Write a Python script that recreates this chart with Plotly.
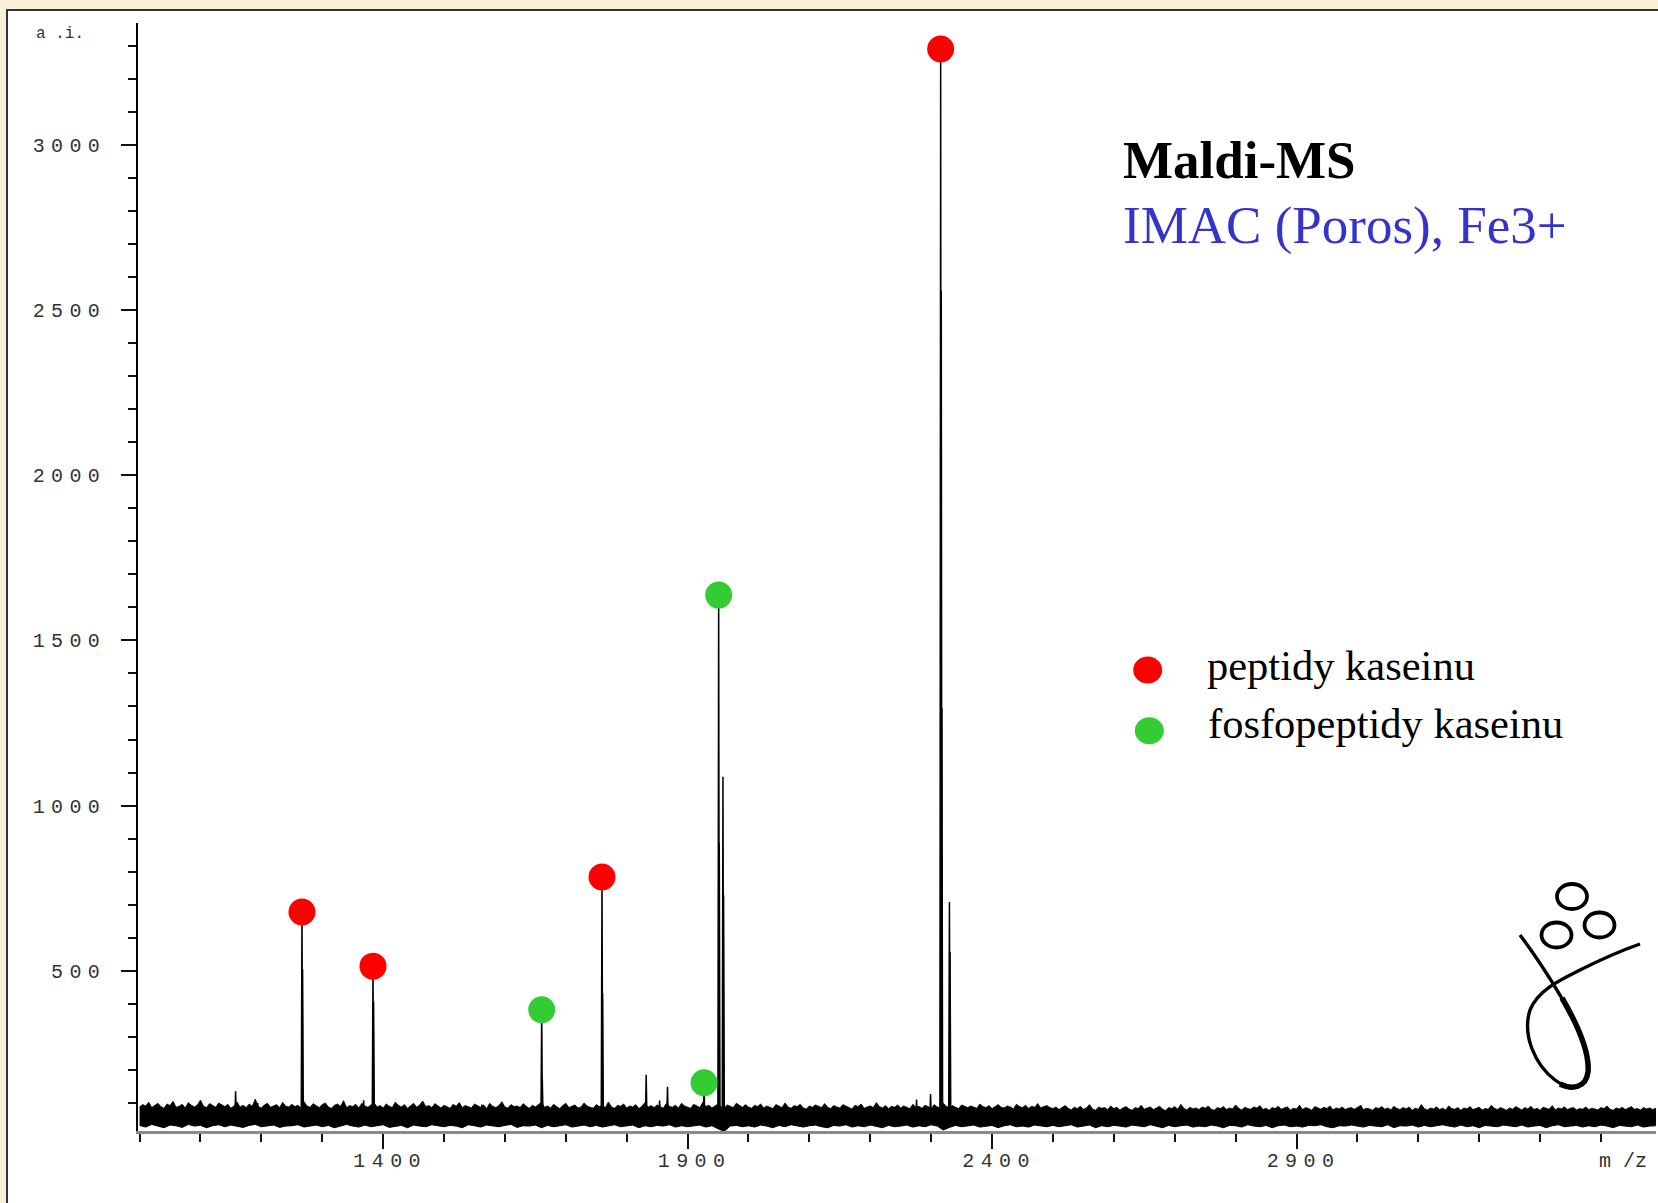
import plotly.graph_objects as go

# ---------------- spectrum data ----------------
# upper edge of the baseline noise, every 5 m/z from 1000 to 3495
noise_hi_mz = list(range(1000, 3500, 5))
noise_hi = [
    88, 95, 91, 102, 86, 93, 99, 89, 84, 97, 92, 105, 87, 90, 96, 85, 101, 93, 88, 94, 109, 90, 86, 98, 92,
    87, 100, 94, 89, 96, 84, 91, 103, 88, 93, 86, 97, 90, 112, 89, 85, 94, 99, 87, 92, 95, 86, 102, 90, 88,
    96, 89, 93, 85, 104, 91, 87, 98, 92, 86, 95, 100, 88, 84, 93, 97, 90, 107, 86, 92, 89, 96, 85, 99, 91,
    87, 94, 101, 88, 92, 85, 97, 90, 86, 103, 93, 88, 95, 84, 91, 99, 87, 94, 106, 89, 92, 86, 98, 90, 85,
    93, 88, 84, 96, 90, 101, 86, 92, 89, 85, 97, 91, 87, 94, 83, 99, 90, 86, 92, 104, 88, 85, 95, 89, 91,
    86, 98, 90, 84, 93, 88, 95, 102, 87, 91, 85, 96, 89, 83, 92, 99, 86, 90, 94, 85, 88, 100, 91, 87, 84,
    95, 89, 92, 86, 103, 88, 84, 93, 90, 97, 85, 91, 88, 95, 83, 90, 101, 87, 92, 86, 94, 89, 84, 98, 90,
    87, 93, 85, 99, 91, 88, 84, 96, 90, 86, 102, 89, 93, 85, 91, 97, 88, 83, 94, 90, 86, 99, 92, 87, 95,
    88, 84, 93, 89, 97, 85, 91, 87, 83, 95, 90, 86, 100, 88, 84, 92, 89, 96, 85, 82, 91, 87, 94, 90, 86,
    98, 87, 83, 92, 88, 85, 95, 90, 86, 82, 93, 89, 97, 84, 88, 91, 86, 101, 89, 85, 92, 83, 90, 87, 94,
    85, 91, 88, 83, 96, 87, 90, 84, 93, 89, 82, 95, 88, 86, 99, 90, 85, 92, 87, 83, 94, 89, 86, 91, 88,
    84, 97, 89, 86, 92, 83, 90, 95, 87, 85, 91, 88, 82, 96, 89, 86, 93, 84, 90, 87, 98, 85, 89, 92, 86,
    83, 88, 80, 86, 92, 84, 79, 87, 83, 90, 81, 85, 95, 82, 78, 88, 84, 86, 80, 91, 83, 87, 79, 85, 89,
    82, 78, 86, 83, 93, 81, 85, 88, 80, 84, 90, 82, 77, 86, 83, 89, 81, 96, 84, 79, 87, 82, 85, 80, 88,
    84, 91, 81, 78, 86, 83, 89, 80, 85, 82, 94, 84, 79, 87, 83, 81, 88, 85, 92, 80, 84, 78, 86, 83, 90,
    81, 85, 88, 79, 84, 82, 93, 80, 86, 83, 78, 89, 84, 81, 87, 83, 91, 79, 85, 82, 88, 80, 84, 86, 81,
    87, 92, 80, 84, 82, 78, 86, 83, 89, 81, 85, 79, 90, 83, 80, 86, 82, 88, 78, 84, 81, 95, 83, 79, 85,
    82, 88, 80, 84, 79, 91, 83, 81, 86, 78, 85, 82, 89, 80, 84, 87, 79, 83, 81, 93, 84, 80, 86, 82, 78,
    85, 81, 89, 83, 79, 86, 82, 90, 80, 84, 78, 87, 83, 81, 92, 79, 85, 82, 88, 80, 84, 86, 79, 83, 81,
    88, 80, 84, 82, 79, 86, 83, 91, 81, 78, 85, 82, 87, 80, 84, 89, 81, 83, 79, 86, 82, 85, 80, 84, 82,
]
# lower edge of the baseline noise, every 10 m/z from 1000 to 3490
noise_lo_mz = list(range(1000, 3500, 10))
noise_lo = [
    32, 27, 35, 30, 25, 33, 31, 26, 35, 30, 32, 25, 31, 34, 28, 33, 30, 26, 32, 35, 28, 31, 33, 26, 30,
    31, 34, 27, 30, 33, 28, 32, 25, 31, 35, 30, 27, 33, 28, 31, 34, 26, 30, 32, 25, 33, 30, 28, 34, 31,
    28, 32, 30, 25, 34, 31, 27, 33, 30, 28, 32, 35, 26, 31, 30, 33, 25, 32, 28, 31, 34, 27, 30, 33, 28,
    32, 27, 31, 34, 28, 30, 33, 25, 31, 28, 32, 30, 34, 27, 31, 28, 30, 33, 27, 31, 22, 14, 30, 32, 28,
    31, 27, 33, 30, 25, 32, 28, 34, 30, 27, 31, 33, 28, 25, 32, 30, 34, 27, 31, 28, 33, 30, 25, 32, 28,
    30, 33, 27, 31, 28, 34, 30, 18, 26, 32, 28, 31, 33, 27, 30, 32, 25, 31, 34, 28, 30, 27, 33, 31, 28,
    32, 28, 31, 34, 27, 30, 33, 25, 31, 28, 32, 30, 27, 33, 31, 28, 34, 30, 25, 32, 28, 31, 33, 27, 30,
    28, 33, 30, 25, 32, 31, 27, 34, 30, 28, 32, 25, 31, 33, 28, 30, 27, 32, 31, 34, 28, 25, 31, 30, 33,
    30, 27, 32, 31, 28, 34, 25, 31, 30, 33, 27, 32, 28, 31, 34, 30, 27, 33, 28, 31, 25, 32, 30, 28, 33,
    31, 28, 33, 27, 30, 32, 25, 31, 34, 28, 30, 32, 27, 31, 28, 33, 30, 25, 32, 31, 28, 33, 27, 30, 31,
]
assert len(noise_hi) == len(noise_hi_mz) and len(noise_lo) == len(noise_lo_mz)
baseline_level = 55

# peaks (m/z, intensity in a.i.)
peak_mz = [1157.7, 1194.0, 1266.7, 1267.7, 1368.0, 1383.3, 1384.3, 1562.0, 1660.4, 1661.4,
           1759.4, 1760.4, 1832.0, 1854.0, 1867.0, 1927.0, 1951.0, 1952.0, 1958.1, 1959.1,
           2276.0, 2299.0, 2315.6, 2316.6, 2317.6, 2330.0, 2331.0, 3006.0]
peak_int = [135, 100, 678, 505, 108, 514, 406, 95, 382, 170,
            784, 432, 185, 107, 149, 161, 1637, 887, 1087, 729,
            110, 127, 3290, 2558, 1295, 708, 558, 92]
peak_halfwidth = 1.2

# annotated peaks
casein_mz = [1266.7, 1383.3, 1759.4, 2315.6]
casein_int = [678, 514, 784, 3290]
phospho_mz = [1660.4, 1927.0, 1951.0]
phospho_int = [382, 161, 1637]

# axis ticks
x_major = [1400, 1900, 2400, 2900, 3400]
x_labels = ["1400", "1900", "2400", "2900", ""]
x_minor = list(range(1000, 3500, 100))
y_major = [500, 1000, 1500, 2000, 2500, 3000]
y_labels = ["500", "1000", "1500", "2000", "2500", "3000"]
y_minor = list(range(100, 3400, 100))

# ---------------- page geometry ----------------
FIG_W, FIG_H = 1658, 1203
M_L, M_R, M_T, M_B = 138, 2, 23, 72
PLOT_W = FIG_W - M_L - M_R
PLOT_H = FIG_H - M_T - M_B
X_RANGE = [997.4, 3490.4]
Y_RANGE = [15.1, 3368.6]

RED = "#ff0000"
GREEN = "#33cc33"
MONO = "Liberation Mono"
SERIF = "Liberation Serif, Times New Roman, serif"


def px(x):
    return (x - M_L) / PLOT_W


def py(y):
    return (FIG_H - M_B - y) / PLOT_H


def spaced(txt, sp=6.4):
    if not txt:
        return ""
    return f'<span style="letter-spacing:{sp}px">{txt}</span>'


def svg_path(cmds):
    parts = []
    for op, pts in cmds:
        coords = " ".join(f"{px(x):.5f},{py(y):.5f}" for x, y in pts)
        parts.append(f"{op} {coords}")
    return " ".join(parts)


# ---------------- traces ----------------
fig = go.Figure()

fig.add_trace(go.Scatter(x=noise_lo_mz, y=noise_lo, mode="lines",
                         line=dict(color="black", width=1), hoverinfo="skip",
                         showlegend=False))
fig.add_trace(go.Scatter(x=noise_hi_mz, y=noise_hi, mode="lines", fill="tonexty",
                         fillcolor="black", line=dict(color="black", width=0.8),
                         hoverinfo="skip", showlegend=False))

sx, sy = [], []
for m, h in zip(peak_mz, peak_int):
    sx += [m - peak_halfwidth, m, m + peak_halfwidth, None]
    sy += [baseline_level, h, baseline_level, None]
fig.add_trace(go.Scatter(x=sx, y=sy, mode="lines",
                         line=dict(color="black", width=1.5),
                         hoverinfo="skip", showlegend=False))

fig.add_trace(go.Scatter(x=casein_mz, y=casein_int, mode="markers",
                         marker=dict(size=27, color=RED, line=dict(width=0)),
                         name="peptidy kaseinu", showlegend=False))
fig.add_trace(go.Scatter(x=phospho_mz, y=phospho_int, mode="markers",
                         marker=dict(size=27, color=GREEN, line=dict(width=0)),
                         name="fosfopeptidy kaseinu", showlegend=False))

# ---------------- decorations ----------------
shapes = [
    # white panel with dark frame
    dict(type="rect", xref="paper", yref="paper", layer="below",
         x0=px(7), x1=px(1720), y0=py(1260), y1=py(10),
         fillcolor="white", line=dict(color="#333333", width=2)),
    # legend dots
    dict(type="circle", xref="paper", yref="paper",
         x0=px(1133.2), x1=px(1162.2), y0=py(683.5), y1=py(656.5),
         fillcolor=RED, line=dict(width=0)),
    dict(type="circle", xref="paper", yref="paper",
         x0=px(1134.8), x1=px(1163.8), y0=py(744.2), y1=py(717.2),
         fillcolor=GREEN, line=dict(width=0)),
]

# logo: three rings and a looped stroke
for cx, cy in [(1572, 896.5), (1556.5, 935), (1599.5, 925)]:
    shapes.append(dict(type="circle", xref="paper", yref="paper",
                       x0=px(cx - 15), x1=px(cx + 15), y0=py(cy + 12.5), y1=py(cy - 12.5),
                       line=dict(color="black", width=3.8)))
loop = [
    ("M", [(1520, 935)]),
    ("C", [(1535, 955), (1548, 975), (1560, 995)]),
    ("C", [(1575, 1020), (1590, 1050), (1588, 1072)]),
    ("C", [(1586, 1090), (1568, 1090), (1555, 1080)]),
    ("C", [(1535, 1065), (1522, 1035), (1530, 1010)]),
    ("C", [(1538, 990), (1560, 980), (1580, 970)]),
    ("C", [(1600, 960), (1620, 951), (1640, 944)]),
]
shapes.append(dict(type="path", xref="paper", yref="paper", path=svg_path(loop),
                   line=dict(color="black", width=3.4)))
heavy = [
    ("M", [(1562, 998)]),
    ("C", [(1576, 1022), (1590, 1050), (1588, 1072)]),
    ("C", [(1586, 1088), (1572, 1090), (1560, 1084)]),
]
shapes.append(dict(type="path", xref="paper", yref="paper", path=svg_path(heavy),
                   line=dict(color="black", width=5.5)))

annotations = [
    dict(text="<b>Maldi-MS</b>", x=px(1121), y=py(160.4), xanchor="left", yanchor="middle",
         font=dict(family=SERIF, size=53, color="black")),
    dict(text="IMAC (Poros), Fe3+", x=px(1121), y=py(225.4), xanchor="left", yanchor="middle",
         font=dict(family=SERIF, size=53, color="#3434cc")),
    dict(text="peptidy kaseinu", x=px(1205), y=py(665.7), xanchor="left", yanchor="middle",
         font=dict(family=SERIF, size=42.5, color="black")),
    dict(text="fosfopeptidy kaseinu", x=px(1206), y=py(723.7), xanchor="left", yanchor="middle",
         font=dict(family=SERIF, size=42.5, color="black")),
    dict(text="a .i.", x=px(59.5), y=py(34), xanchor="center", yanchor="middle",
         font=dict(family=MONO, size=16, color="#333333")),
    dict(text="m /z", x=px(1623), y=py(1161), xanchor="center", yanchor="middle",
         font=dict(family=MONO, size=20, color="#333333")),
]
for a in annotations:
    a.update(xref="paper", yref="paper", showarrow=False)

tick_font = dict(family=MONO, size=20, color="#333333")

fig.update_layout(
    width=FIG_W, height=FIG_H, autosize=False,
    margin=dict(l=M_L, r=M_R, t=M_T, b=M_B, pad=0),
    paper_bgcolor="#fbefd8", plot_bgcolor="white",
    showlegend=False,
    shapes=shapes, annotations=annotations,
    xaxis=dict(range=X_RANGE, showgrid=False, zeroline=False,
               showline=True, linecolor="#8a8a8a", linewidth=3,
               ticks="outside", ticklen=15, tickwidth=1.5, tickcolor="#111111",
               tickmode="array", tickvals=x_major,
               ticktext=[spaced(t) for t in x_labels], tickfont=tick_font,
               ticklabelshift=7, ticklabelstandoff=-6,
               minor=dict(tickmode="array", tickvals=x_minor, ticks="outside",
                          ticklen=8, tickwidth=1.5, tickcolor="#111111", showgrid=False)),
    yaxis=dict(range=Y_RANGE, showgrid=False, zeroline=False,
               showline=True, linecolor="black", linewidth=1.5,
               ticks="outside", ticklen=15, tickwidth=1.5, tickcolor="#111111",
               tickmode="array", tickvals=y_major,
               ticktext=[spaced(t) for t in y_labels], tickfont=tick_font,
               ticklabelstandoff=11,
               minor=dict(tickmode="array", tickvals=y_minor, ticks="outside",
                          ticklen=8, tickwidth=1.5, tickcolor="#111111", showgrid=False)),
)

fig.write_html("out.html")
